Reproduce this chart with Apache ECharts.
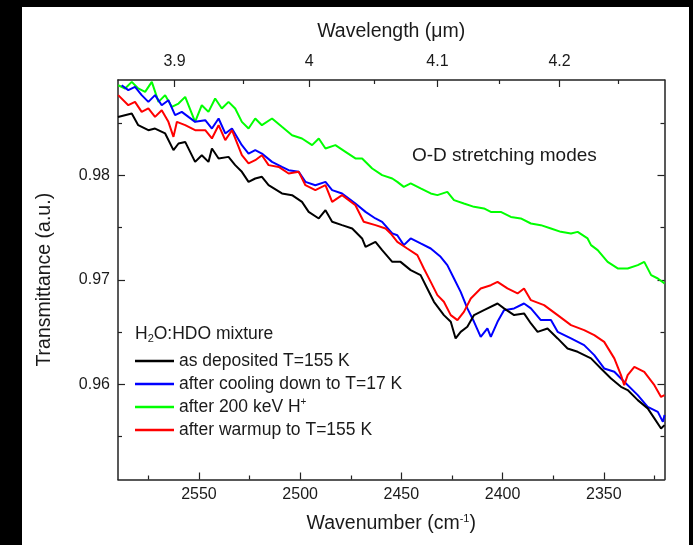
<!DOCTYPE html>
<html>
<head>
<meta charset="utf-8">
<script src="https://cdn.jsdelivr.net/npm/echarts@6/dist/echarts.min.js"></script>
<style>
html,body{margin:0;padding:0;background:#000;}
#c{width:693px;height:545px;}
</style>
</head>
<body>
<div id="c"></div>
<script>
// ---- data (wavenumber cm^-1, transmittance) ----
const seriesNames = ['as deposited T=155 K', 'after cooling down to T=17 K', 'after 200 keV H+', 'after warmup to T=155 K'];
const seriesColors = ['#000000', '#0000ff', '#00ff00', '#ff0000'];

const asDeposited = [
[2590,0.98557],[2583.2,0.98590],[2580.0,0.98478],[2575.0,0.98430],[2571.7,0.98446],[2566.7,0.98399],
[2562.6,0.98239],[2560.1,0.98303],[2556.8,0.98318],[2551.9,0.98127],[2548.6,0.98191],[2545.3,0.98127],
[2543.6,0.98255],[2540.3,0.98160],[2535.4,0.98175],[2532.1,0.98096],[2528.8,0.98032],[2525.5,0.97936],
[2522.2,0.97968],[2518.9,0.97984],[2515.6,0.97904],[2509.0,0.97825],[2504.0,0.97809],[2499.1,0.97745],
[2495.8,0.97649],[2490.8,0.97586],[2487.5,0.97665],[2484.2,0.97554],[2479.3,0.97522],[2474.3,0.97490],
[2469.4,0.97395],[2467.7,0.97315],[2462.8,0.97362],[2459.5,0.97283],[2454.5,0.97171],[2450.4,0.97171],
[2445.4,0.97092],[2440.5,0.97044],[2437.2,0.96917],[2433.9,0.96789],[2429.0,0.96662],[2425.6,0.96598],
[2423.2,0.96439],[2420.7,0.96502],[2417.4,0.96550],[2414.1,0.96662],[2409.2,0.96709],[2402.5,0.96773],
[2399.3,0.96726],[2394.3,0.96662],[2389.4,0.96678],[2386.0,0.96582],[2382.7,0.96502],[2377.8,0.96534],
[2372.8,0.96439],[2367.9,0.96343],[2362.9,0.96311],[2356.3,0.96248],[2351.4,0.96152],[2346.4,0.96056],
[2341.5,0.95976],[2338.2,0.95945],[2333.2,0.95849],[2328.3,0.95770],[2325.0,0.95674],[2321.7,0.95578],
[2320,0.95610]
];

const afterCooling = [
[2588.2,0.98860],[2584.9,0.98813],[2581.6,0.98844],[2578.3,0.98765],[2575.0,0.98701],[2571.7,0.98765],
[2568.4,0.98669],[2565.1,0.98717],[2561.8,0.98574],[2558.5,0.98605],[2555.2,0.98557],[2551.9,0.98510],
[2546.9,0.98526],[2543.6,0.98446],[2540.3,0.98542],[2537.0,0.98399],[2533.7,0.98446],[2528.8,0.98287],
[2525.5,0.98207],[2522.2,0.98239],[2518.9,0.98207],[2513.9,0.98127],[2509.0,0.98079],[2505.7,0.98048],
[2500.7,0.98032],[2497.4,0.97936],[2492.5,0.97904],[2487.5,0.97936],[2484.2,0.97857],[2479.3,0.97825],
[2472.7,0.97729],[2467.7,0.97649],[2462.8,0.97586],[2459.5,0.97554],[2454.5,0.97443],[2452.0,0.97426],
[2448.8,0.97331],[2445.4,0.97395],[2440.5,0.97347],[2435.5,0.97299],[2430.6,0.97219],[2427.3,0.97140],
[2424.0,0.97012],[2420.7,0.96884],[2417.4,0.96726],[2414.1,0.96598],[2410.8,0.96454],[2407.5,0.96534],
[2405.8,0.96454],[2402.5,0.96598],[2399.3,0.96709],[2394.3,0.96726],[2389.4,0.96773],[2386.0,0.96726],
[2381.1,0.96614],[2376.1,0.96614],[2372.8,0.96502],[2366.2,0.96439],[2359.7,0.96375],[2354.7,0.96279],
[2349.8,0.96152],[2344.8,0.96120],[2339.9,0.96024],[2333.2,0.95897],[2328.3,0.95785],[2323.3,0.95737],
[2320.8,0.95641],[2320,0.95706]
];

const afterIrradiation = [
[2589.9,0.98860],[2586.5,0.98829],[2583.2,0.98892],[2580.0,0.98829],[2576.6,0.98796],[2573.3,0.98892],
[2570.0,0.98701],[2566.7,0.98765],[2563.4,0.98653],[2560.1,0.98685],[2556.8,0.98749],[2551.9,0.98510],
[2548.6,0.98669],[2545.3,0.98605],[2542.0,0.98733],[2538.7,0.98638],[2535.4,0.98701],[2532.1,0.98638],
[2528.8,0.98510],[2525.5,0.98446],[2522.2,0.98542],[2518.9,0.98478],[2513.9,0.98542],[2509.0,0.98462],
[2504.0,0.98382],[2499.1,0.98351],[2494.1,0.98287],[2490.8,0.98351],[2487.5,0.98255],[2482.6,0.98287],
[2477.6,0.98223],[2472.7,0.98160],[2469.4,0.98160],[2464.4,0.98064],[2459.5,0.98000],[2454.5,0.97968],
[2452.0,0.97936],[2448.8,0.97888],[2445.4,0.97921],[2440.5,0.97873],[2435.5,0.97825],[2432.2,0.97809],
[2427.3,0.97840],[2424.0,0.97761],[2419.1,0.97729],[2414.1,0.97697],[2409.2,0.97682],[2405.8,0.97649],
[2400.9,0.97649],[2395.9,0.97601],[2391.0,0.97586],[2386.0,0.97538],[2381.1,0.97522],[2376.1,0.97490],
[2371.2,0.97458],[2366.2,0.97443],[2362.9,0.97458],[2358.0,0.97395],[2356.3,0.97331],[2353.0,0.97283],
[2348.1,0.97171],[2343.1,0.97108],[2338.2,0.97108],[2333.2,0.97140],[2330.0,0.97171],[2326.6,0.97044],
[2323.3,0.97012],[2320,0.96965]
];

const afterWarmup = [
[2589.9,0.98765],[2584.9,0.98669],[2581.6,0.98701],[2578.3,0.98605],[2575.0,0.98638],[2571.7,0.98557],
[2568.4,0.98621],[2565.1,0.98510],[2562.6,0.98366],[2560.9,0.98510],[2556.8,0.98478],[2551.9,0.98430],
[2546.9,0.98430],[2543.6,0.98351],[2540.3,0.98478],[2537.0,0.98335],[2533.7,0.98430],[2528.8,0.98191],
[2525.5,0.98112],[2522.2,0.98143],[2518.9,0.98191],[2515.6,0.98096],[2510.6,0.98079],[2505.7,0.98016],
[2500.7,0.98032],[2497.4,0.97904],[2492.5,0.97857],[2487.5,0.97904],[2484.2,0.97745],[2479.3,0.97809],
[2472.7,0.97713],[2468.6,0.97554],[2462.8,0.97522],[2457.8,0.97490],[2455.3,0.97443],[2452.0,0.97362],
[2447.1,0.97299],[2442.1,0.97235],[2438.9,0.97108],[2435.5,0.96980],[2432.2,0.96853],[2429.0,0.96789],
[2425.6,0.96662],[2422.3,0.96614],[2419.1,0.96693],[2415.7,0.96821],[2410.8,0.96917],[2405.8,0.96948],
[2402.5,0.96980],[2397.6,0.96917],[2392.6,0.96869],[2389.4,0.96917],[2386.0,0.96805],[2379.5,0.96757],
[2372.8,0.96662],[2366.2,0.96566],[2359.7,0.96518],[2354.7,0.96470],[2349.8,0.96406],[2344.8,0.96248],
[2341.5,0.96088],[2339.9,0.95992],[2338.2,0.96088],[2334.9,0.96167],[2330.0,0.96120],[2325.0,0.95992],
[2321.7,0.95880],[2320,0.95897]
];

// ---- axis ticks ----
const wnMajor = [2550, 2500, 2450, 2400, 2350];
const wnMinor = [2575, 2525, 2475, 2425, 2375, 2325];
const wlMajor = [3.9, 4.0, 4.1, 4.2];           // µm
const wlMinor = [3.95, 4.05, 4.15, 4.25];       // µm
const yMajor = [0.96, 0.97, 0.98];
const yMinor = [0.955, 0.965, 0.975, 0.985];

const X_MIN = 2320, X_MAX = 2590;
const TOP_MIN = 2331, TOP_MAX = 2591;
const Y_MIN = 0.9509, Y_MAX = 0.9891;

const FONT = '"Liberation Sans", Arial, sans-serif';
const TXT = '#1a1a1a';
const AX = '#222';

const chart = echarts.init(document.getElementById('c'), null, {renderer: 'canvas'});

function xAx(extra) {
  return Object.assign({
    type: 'value', inverse: true, splitLine: {show: false},
    axisLine: {show: false}, axisLabel: {show: false},
    axisTick: {show: false}
  }, extra);
}
function yAx(extra) {
  return Object.assign({
    type: 'value', min: Y_MIN, max: Y_MAX, splitLine: {show: false},
    axisLine: {show: false}, axisLabel: {show: false},
    axisTick: {show: false}
  }, extra);
}

const wlToWn = a => a.map(l => 10000 / l);

const option = {
  backgroundColor: '#000',
  animation: false,
  textStyle: {fontFamily: FONT},
  graphic: [
    {type: 'rect', z: -100, silent: true, shape: {x: 22, y: 7, width: 667, height: 545}, style: {fill: '#fff'}},
    {type: 'text', left: 412, top: 146, silent: true,
     style: {text: 'O-D stretching modes', font: '19px ' + FONT, fill: TXT}},
    {type: 'text', left: 135, top: 325, silent: true,
     style: {text: 'H{sub|2}O:HDO mixture', font: '17.5px ' + FONT, fill: TXT,
       rich: {sub: {fontSize: 11, fill: TXT, fontFamily: FONT, padding: [9, 0, 0, 0]}}}}
  ],
  grid: {left: 118, right: 28.5, top: 80, bottom: 65.5, containLabel: false},
  legend: {
    orient: 'vertical', left: 135, top: 351, padding: 0, itemWidth: 39, itemHeight: 2.5, itemGap: 3,
    icon: 'rect',
    data: seriesNames,
    textStyle: {fontSize: 17.5, color: TXT, fontFamily: FONT, lineHeight: 20,
      rich: {sup: {fontSize: 10, color: TXT, fontFamily: FONT, padding: [0, 0, 9, 0]}}},
    formatter: n => n.replace('H+', 'H{sup|+}')
  },
  xAxis: [
    xAx({position: 'bottom', min: X_MIN, max: X_MAX,
      axisLine: {show: true, onZero: false, lineStyle: {color: AX, width: 1.5}},
      axisTick: {show: true, inside: true, length: 7, customValues: wnMajor, lineStyle: {color: AX, width: 1.2}},
      axisLabel: {show: true, customValues: wnMajor, margin: 7, fontSize: 16, color: TXT, fontFamily: FONT,
        formatter: v => String(v)},
      name: 'Wavenumber (cm{sup|-1})', nameLocation: 'middle', nameGap: 34,
      nameTextStyle: {fontSize: 19.5, color: TXT, fontFamily: FONT,
        rich: {sup: {fontSize: 11, color: TXT, fontFamily: FONT, padding: [0, 0, 10, 0]}}}}),
    xAx({position: 'bottom', min: X_MIN, max: X_MAX,
      axisTick: {show: true, inside: true, length: 4, customValues: wnMinor, lineStyle: {color: AX, width: 1.2}}}),
    xAx({position: 'top', min: TOP_MIN, max: TOP_MAX,
      axisLine: {show: true, onZero: false, lineStyle: {color: AX, width: 1.5}},
      axisTick: {show: true, inside: true, length: 7, customValues: wlToWn(wlMajor), lineStyle: {color: AX, width: 1.2}},
      axisLabel: {show: true, customValues: wlToWn(wlMajor), margin: 10, fontSize: 16, color: TXT, fontFamily: FONT,
        formatter: v => String(Math.round(10000 / v * 100) / 100)},
      name: 'Wavelength (μm)', nameLocation: 'middle', nameGap: 38,
      nameTextStyle: {fontSize: 19.5, color: TXT, fontFamily: FONT}}),
    xAx({position: 'top', min: TOP_MIN, max: TOP_MAX,
      axisTick: {show: true, inside: true, length: 4, customValues: wlToWn(wlMinor), lineStyle: {color: AX, width: 1.2}}})
  ],
  yAxis: [
    yAx({position: 'left',
      axisLine: {show: true, onZero: false, lineStyle: {color: AX, width: 1.5}},
      axisTick: {show: true, inside: true, length: 7, customValues: yMajor, lineStyle: {color: AX, width: 1.2}},
      axisLabel: {show: true, customValues: yMajor, margin: 8, fontSize: 16, color: TXT, fontFamily: FONT,
        formatter: v => v.toFixed(2)},
      name: 'Transmittance (a.u.)', nameLocation: 'middle', nameGap: 63,
      nameTextStyle: {fontSize: 19.5, color: TXT, fontFamily: FONT}}),
    yAx({position: 'left',
      axisTick: {show: true, inside: true, length: 4, customValues: yMinor, lineStyle: {color: AX, width: 1.2}}}),
    yAx({position: 'right',
      axisLine: {show: true, onZero: false, lineStyle: {color: AX, width: 1.5}},
      axisTick: {show: true, inside: true, length: 7, customValues: yMajor, lineStyle: {color: AX, width: 1.2}}}),
    yAx({position: 'right',
      axisTick: {show: true, inside: true, length: 4, customValues: yMinor, lineStyle: {color: AX, width: 1.2}}})
  ],
  series: [asDeposited, afterCooling, afterIrradiation, afterWarmup].map((d, i) => ({
    name: seriesNames[i], type: 'line', data: d, xAxisIndex: 0, yAxisIndex: 0,
    showSymbol: false, symbol: 'none', clip: true,
    lineStyle: {color: seriesColors[i], width: 2}, itemStyle: {color: seriesColors[i]},
    z: [5, 4, 3, 6][i]
  }))
};
chart.setOption(option);
</script>
</body>
</html>
